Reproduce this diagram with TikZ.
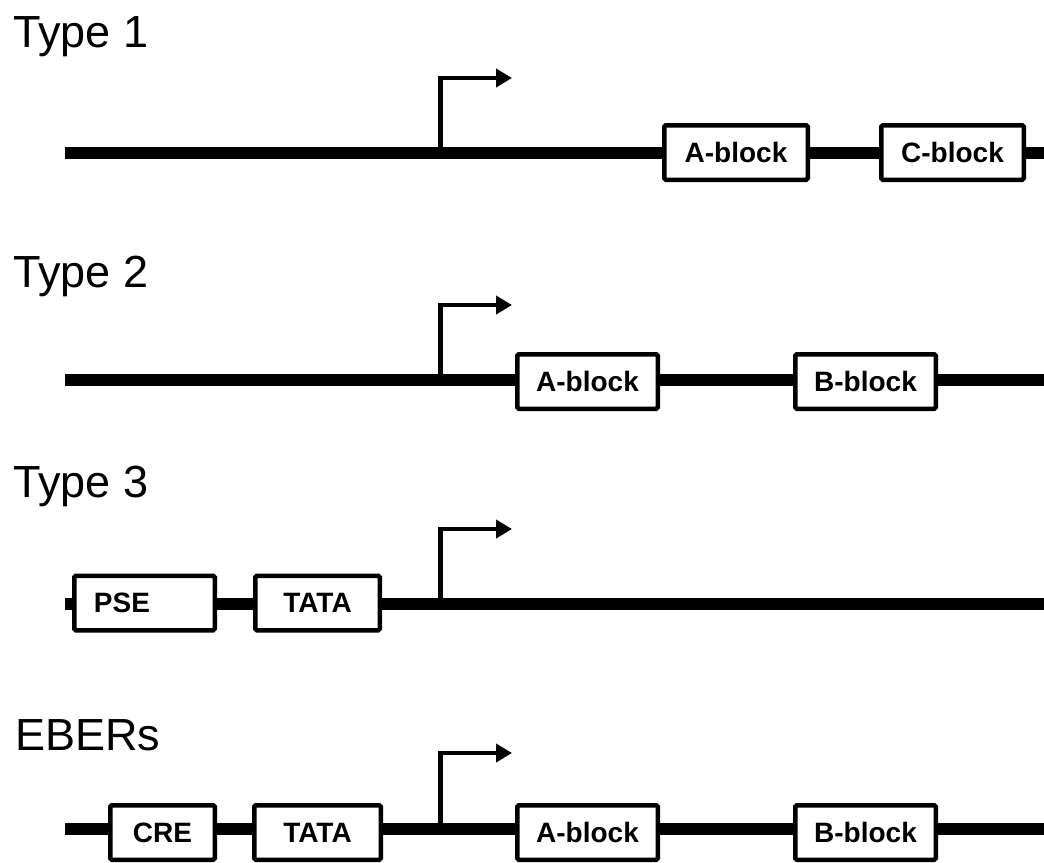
\documentclass[tikz,border=0pt]{standalone}
\usepackage{fontspec}
\setmainfont{Liberation Sans}
\usetikzlibrary{arrows.meta}
\tikzset{
  backbone/.style={line width=12pt, line cap=butt},
  elem/.style={draw, fill=white, line width=4.5pt, rounded corners=1.5pt, inner sep=0pt,
    minimum height=54.5pt, font=\fontsize{28}{30}\selectfont\bfseries},
  tsslabel/.style={font=\fontsize{45}{50}\selectfont, anchor=base west, inner sep=0pt},
  tss/.style={line width=4.5pt, -{Triangle[length=16pt,width=18pt]}},
  boxtext/.style={inner sep=0pt, font=\fontsize{28}{30}\selectfont\bfseries}
}
\begin{document}
\begin{tikzpicture}[x=1pt,y=-1pt]
\useasboundingbox (0,0) rectangle (1044,862);

% ---------- Type 1 ----------
\node[tsslabel] (l1) at (13,47) {Type 1};
\coordinate (s1) at (65,153);
\coordinate (e1) at (1044,153);
\coordinate (p1) at (440.5,153);
\coordinate (t1) at (512,78);
\node[elem, minimum width=143.5pt] (a1) at (736,152.5) {A-block};
\node[elem, minimum width=142.5pt] (c1) at (952.5,152.5) {C-block};
\draw[backbone] (s1) -- (s1 -| a1.west);
\draw[backbone] (s1 -| a1.east) -- (s1 -| c1.west);
\draw[backbone] (s1 -| c1.east) -- (e1);
\draw[tss] (p1) |- (t1);

% ---------- Type 2 ----------
\node[tsslabel] (l2) at (13,287) {Type 2};
\coordinate (s2) at (65,380);
\coordinate (e2) at (1044,380);
\coordinate (p2) at (440.5,380);
\coordinate (t2) at (512,305);
\node[elem, minimum width=140.5pt] (a2) at (587.5,381.5) {A-block};
\node[elem, minimum width=140.5pt] (b2) at (865.5,381.5) {B-block};
\draw[backbone] (s2) -- (s2 -| a2.west);
\draw[backbone] (s2 -| a2.east) -- (s2 -| b2.west);
\draw[backbone] (s2 -| b2.east) -- (e2);
\draw[tss] (p2) |- (t2);

% ---------- Type 3 ----------
\node[tsslabel] (l3) at (13,497) {Type 3};
\coordinate (s3) at (65,604);
\coordinate (e3) at (1044,604);
\coordinate (p3) at (440.5,604);
\coordinate (t3) at (512,529);
\node[elem, minimum width=140.5pt] (pse3) at (144.5,603) {};
\node[boxtext] (pset) at (122,603) {PSE};
\node[elem, minimum width=124.5pt] (tata3) at (317.5,603) {TATA};
\draw[backbone] (s3) -- (s3 -| pse3.west);
\draw[backbone] (s3 -| pse3.east) -- (s3 -| tata3.west);
\draw[backbone] (s3 -| tata3.east) -- (e3);
\draw[tss] (p3) |- (t3);

% ---------- EBERs ----------
\node[tsslabel] (l4) at (15,750) {EBERs};
\coordinate (s4) at (65,829);
\coordinate (e4) at (1044,829);
\coordinate (p4) at (440.5,829);
\coordinate (t4) at (512,753);
\node[elem, minimum width=104.5pt] (cre4) at (162.5,832.5) {CRE};
\node[elem, minimum width=126.5pt] (tata4) at (317.5,832.5) {TATA};
\node[elem, minimum width=140.5pt] (a4) at (587.5,832.5) {A-block};
\node[elem, minimum width=140.5pt] (b4) at (865.5,832.5) {B-block};
\draw[backbone] (s4) -- (s4 -| cre4.west);
\draw[backbone] (s4 -| cre4.east) -- (s4 -| tata4.west);
\draw[backbone] (s4 -| tata4.east) -- (s4 -| a4.west);
\draw[backbone] (s4 -| a4.east) -- (s4 -| b4.west);
\draw[backbone] (s4 -| b4.east) -- (e4);
\draw[tss] (p4) |- (t4);
\end{tikzpicture}
\end{document}
